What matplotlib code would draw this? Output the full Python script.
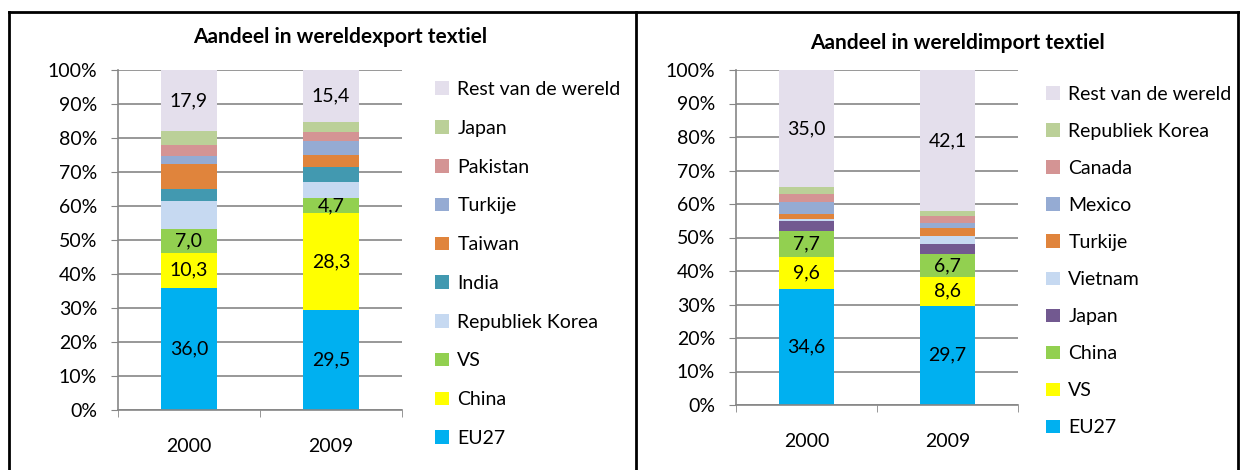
import matplotlib
matplotlib.use("Agg")
import matplotlib.pyplot as plt
import numpy as np
from matplotlib.patches import Patch
from matplotlib.lines import Line2D

plt.rcParams['font.family'] = ['Lato', 'DejaVu Sans']

years = ['2000', '2009']

# export textiel (bottom -> top)
exp_labels = ['EU27', 'China', 'VS', 'Republiek Korea', 'India', 'Taiwan',
              'Turkije', 'Pakistan', 'Japan', 'Rest van de wereld']
exp_2000 = [36.0, 10.3, 7.0, 8.3, 3.4, 7.4, 2.4, 3.0, 4.3, 17.9]
exp_2009 = [29.5, 28.3, 4.7, 4.6, 4.4, 3.4, 4.1, 2.9, 2.7, 15.4]
exp_colors = ['#00B0F0', '#FFFF00', '#92D050', '#C6D9F1', '#4299B0', '#E0843C',
              '#95ABD3', '#D49494', '#BBD098', '#E4DFEC']
exp_shown = ['EU27', 'China', 'VS', 'Rest van de wereld']

# import textiel (bottom -> top)
imp_labels = ['EU27', 'VS', 'China', 'Japan', 'Vietnam', 'Turkije',
              'Mexico', 'Canada', 'Republiek Korea', 'Rest van de wereld']
imp_2000 = [34.6, 9.6, 7.7, 3.1, 0.5, 1.6, 3.4, 2.5, 2.0, 35.0]
imp_2009 = [29.7, 8.6, 6.7, 3.1, 2.3, 2.5, 1.5, 2.1, 1.4, 42.1]
imp_colors = ['#00B0F0', '#FFFF00', '#92D050', '#725990', '#C6D9F1', '#E0843C',
              '#95ABD3', '#D49494', '#BBD098', '#E4DFEC']
imp_shown = ['EU27', 'VS', 'China', 'Rest van de wereld']

W, H = 1240, 470
FS = 14
fig = plt.figure(figsize=(W / 100, H / 100), dpi=100)

def px(l, t, r, b):
    return [l / W, 1 - b / H, (r - l) / W, (b - t) / H]

def stacked(ax, labels, v0, v1, colors, shown, title, title_xy, leg_xy, leg_sp):
    x = np.arange(len(years))
    bottom = np.zeros(2)
    for i, lab in enumerate(labels):
        vals = np.array([v0[i], v1[i]])
        ax.bar(x, vals, 0.39, bottom=bottom, color=colors[i], zorder=2)
        if lab in shown:
            for j in range(2):
                ax.text(x[j], bottom[j] + vals[j] / 2, f'{vals[j]:.1f}'.replace('.', ','),
                        ha='center', va='center', fontsize=FS, zorder=3)
        bottom += vals
    ax.set_xlim(-0.5, 1.5)
    ax.set_ylim(0, 100)
    ax.set_yticks(np.arange(0, 101, 10))
    ax.set_yticklabels([f'{v}%' for v in range(0, 101, 10)], fontsize=FS)
    ax.set_xticks(x)
    ax.set_xticklabels(years, fontsize=FS)
    ax.set_xticks([-0.5, 0.5, 1.5], minor=True)
    ax.tick_params(axis='x', which='major', length=0, pad=20)
    ax.tick_params(axis='x', which='minor', length=5, color='#868686')
    ax.tick_params(axis='y', length=5, color='#868686', pad=10)
    ax.grid(axis='y', color='#868686', linewidth=1.2, zorder=0)
    ax.set_axisbelow(True)
    for s in ['top', 'right']:
        ax.spines[s].set_visible(False)
    for s in ['left', 'bottom']:
        ax.spines[s].set_color('#868686')
        ax.spines[s].set_linewidth(1.2)
    fig.text(title_xy[0] / W, 1 - title_xy[1] / H, title,
             ha='center', va='center', fontsize=15, fontweight='bold')
    handles = [Patch(facecolor=c, edgecolor='none') for c in colors][::-1]
    fig.legend(handles, labels[::-1], loc='upper left',
               bbox_to_anchor=(leg_xy[0] / W, 1 - leg_xy[1] / H),
               frameon=False, fontsize=FS, handlelength=0.7, handleheight=0.7,
               handletextpad=0.45, labelspacing=leg_sp, borderaxespad=0, borderpad=0)

ax1 = fig.add_axes(px(118, 70, 402, 410))
stacked(ax1, exp_labels, exp_2000, exp_2009, exp_colors, exp_shown,
        'Aandeel in wereldexport textiel', (340, 37), (435, 81), 1.12)

ax2 = fig.add_axes(px(736, 70, 1018, 405))
stacked(ax2, imp_labels, imp_2000, imp_2009, imp_colors, imp_shown,
        'Aandeel in wereldimport textiel', (957, 43), (1046, 86), 1.03)

# panel borders
for xs, ys in [([9, 1240], [12, 12]), ([9, 9], [12, 470]), ([636, 636], [12, 470]),
               ([1238, 1238], [12, 470])]:
    fig.add_artist(Line2D([v / W for v in xs], [1 - v / H for v in ys],
                          color='black', linewidth=2))

fig.savefig('out.png', dpi=100)
